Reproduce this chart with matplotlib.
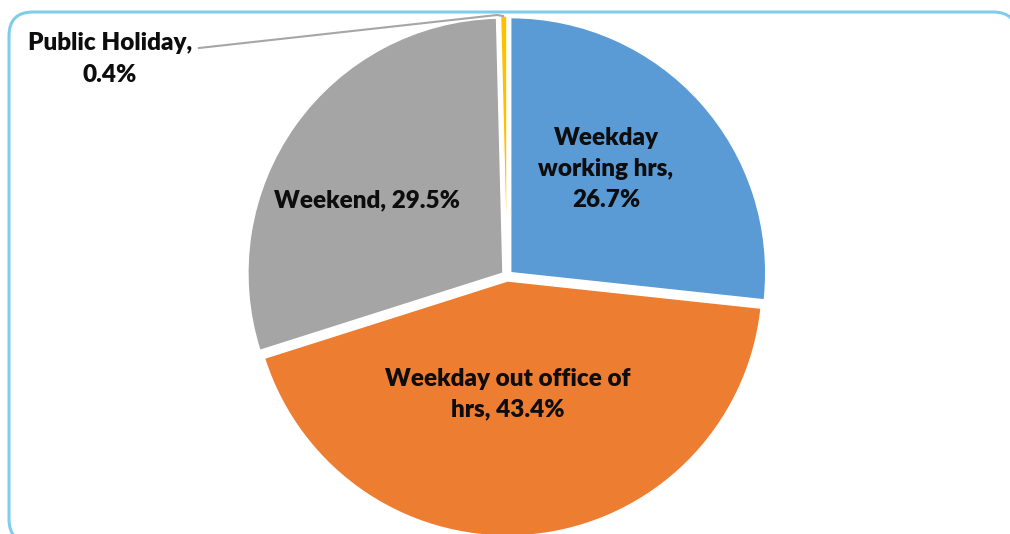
import matplotlib.pyplot as plt
from matplotlib.patches import FancyBboxPatch

# share of call-outs by time period (%)
categories = ['Weekday working hrs', 'Weekday out office of hrs', 'Weekend', 'Public Holiday']
shares = [26.7, 43.4, 29.5, 0.4]
colors = ['#5B9BD5', '#ED7D31', '#A5A5A5', '#FFC000']

label_text = ['Weekday\nworking hrs,\n26.7%',
              'Weekday out office of\nhrs, 43.4%',
              'Weekend, 29.5%',
              'Public Holiday,\n0.4%']

W, H = 1010, 534
fig = plt.figure(figsize=(W / 100, H / 100), dpi=100)
ax = fig.add_axes([0, 0, 1, 1])

# chart frame (rounded, light blue), right and bottom edges run off the image
frame = FancyBboxPatch((9, 12), 1008, 531, boxstyle='round,pad=0,rounding_size=24',
                       facecolor='white', edgecolor='#7FCDEB', linewidth=2.2, zorder=0)
ax.add_patch(frame)

# y axis is inverted below, so counterclock in data = clockwise on screen
wedges, _ = ax.pie(shares, colors=colors, startangle=-90, counterclock=True,
                   center=(507, 276), radius=255, explode=[5, 5, 5, 5],
                   wedgeprops=dict(edgecolor='white', linewidth=1.0), frame=True)

ax.set_xlim(0, W)
ax.set_ylim(H, 0)
ax.set_aspect('auto')
ax.axis('off')

font = dict(family=['Lato', 'DejaVu Sans'], fontweight='heavy', fontsize=17.5,
            color='#0D0D0D', ha='center', va='center', linespacing=1.5)

ax.text(606, 169, label_text[0], **font)
ax.text(508, 394, label_text[1], **font)
ax.text(367, 200, label_text[2], **font)
ax.text(110, 59, label_text[3], **font)

# leader line for the tiny public holiday slice
ax.plot([199, 497, 503], [48, 15, 16], color='#A6A6A6', linewidth=1.5, zorder=5)

fig.savefig('out.png', dpi=100)
